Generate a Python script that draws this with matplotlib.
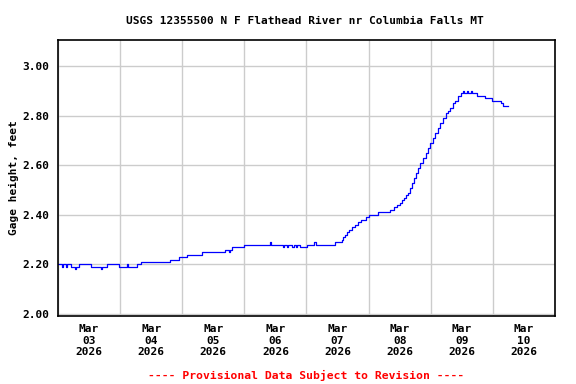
import matplotlib
matplotlib.use("Agg")
import matplotlib.pyplot as plt
import matplotlib.dates as mdates
import pandas as pd

# USGS 12355500 gage height, hours after 2026-03-03 00:00
hours = [0, 1.5, 2.0, 3.0, 3.5, 5.0, 6.5, 7.0, 8.0, 12.75, 13.5, 16.5, 17.0,
         18.75, 23.5, 26.5, 27.0, 30.5, 32.0, 43.25, 46.75, 49.5, 50.0, 55.75,
         64.5, 66.0, 66.5, 67.25, 72.0, 81.75, 82.25, 87.0, 87.5, 88.5, 89.0,
         90.5, 91.0, 92.0, 92.5, 93.5, 94.0, 96.25, 99.0, 99.5, 107.0,
         109.75, 110.25, 111.0, 111.75, 112.5, 113.5, 114.75, 116.0, 117.25,
         119.0, 120.25, 123.75, 128.25, 129.75, 131.0, 132.0, 132.75, 133.75,
         134.5, 135.25, 136.0, 136.75, 137.5, 138.25, 139.0, 140.0, 141.0,
         142.0, 143.0, 143.75, 144.75, 145.75, 146.75, 147.75, 148.75, 149.75,
         150.75, 151.5, 152.5, 153.5, 154.5, 155.75, 156.5, 157.0, 158.0,
         158.5, 159.5, 160.0, 161.75, 165.0, 167.5, 171.0, 172.0, 174.0]
stage = [2.20, 2.19, 2.20, 2.19, 2.20, 2.19, 2.18, 2.19, 2.20, 2.19, 2.19, 2.18, 2.19,
         2.20, 2.19, 2.20, 2.19, 2.20, 2.21, 2.22, 2.23, 2.23, 2.24, 2.25,
         2.26, 2.25, 2.26, 2.27, 2.28, 2.29, 2.28, 2.27, 2.28, 2.27, 2.28,
         2.27, 2.28, 2.27, 2.28, 2.27, 2.27, 2.28, 2.29, 2.28, 2.29,
         2.30, 2.31, 2.32, 2.33, 2.34, 2.35, 2.36, 2.37, 2.38,
         2.39, 2.40, 2.41, 2.42, 2.43, 2.44, 2.45, 2.46, 2.47,
         2.48, 2.49, 2.51, 2.53, 2.55, 2.57, 2.59, 2.61, 2.63,
         2.65, 2.67, 2.69, 2.71, 2.73, 2.75, 2.77, 2.79, 2.81,
         2.82, 2.83, 2.85, 2.86, 2.88, 2.89, 2.90, 2.89, 2.90,
         2.89, 2.90, 2.89, 2.88, 2.87, 2.86, 2.85, 2.84, 2.84]

start = pd.Timestamp("2026-03-03")
end = pd.Timestamp("2026-03-11")
times = start + pd.to_timedelta(hours, unit="h")

plt.rcParams["font.family"] = ["DejaVu Sans Mono"]
plt.rcParams["font.weight"] = "bold"

fig = plt.figure(figsize=(5.76, 3.84), dpi=100)
ax = fig.add_axes([0.1007, 0.177, 0.8628, 0.719])

ax.plot(times, stage, color="#0000ff", linewidth=0.9, drawstyle="steps-post")

ax.set_xlim(start, end)
ax.set_ylim(1.992, 3.106)
ax.set_yticks([2.0, 2.2, 2.4, 2.6, 2.8, 3.0])
ax.yaxis.set_major_formatter(plt.FormatStrFormatter("%.2f"))

ax.xaxis.set_major_locator(mdates.DayLocator())
ax.xaxis.set_major_formatter(plt.NullFormatter())
ax.xaxis.set_minor_locator(mdates.HourLocator(byhour=[12]))
ax.xaxis.set_minor_formatter(mdates.DateFormatter("%b\n%d\n%Y"))

ax.tick_params(axis="both", which="both", length=0, labelsize=8)
ax.tick_params(axis="y", pad=6)
ax.tick_params(axis="x", which="minor", pad=6)
for lbl in ax.get_xticklabels(minor=True):
    lbl.set_linespacing(1.15)

ax.grid(True, color="#cccccc", linewidth=1.0)
ax.set_axisbelow(True)
for s in ax.spines.values():
    s.set_linewidth(1.2)

ax.set_ylabel("Gage height, feet", fontsize=8, fontweight="bold", labelpad=3)
fig.text(0.53, 0.945, "USGS 12355500 N F Flathead River nr Columbia Falls MT",
         ha="center", va="center", fontsize=8, fontweight="bold")
fig.text(0.531, 0.022, "---- Provisional Data Subject to Revision ----",
         ha="center", va="center", fontsize=8.2, fontweight="bold", color="red")

fig.savefig("out.png", dpi=100)
